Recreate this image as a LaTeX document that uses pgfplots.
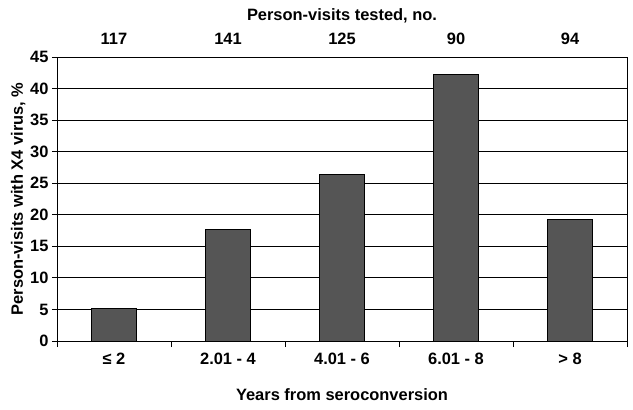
\documentclass[border=0pt]{standalone}
\usepackage{pgfplots}
\pgfplotsset{compat=1.18}
\usepackage{fontspec}
\setmainfont{Liberation Sans}
\definecolor{barfill}{RGB}{85,85,85}
\newcommand{\lf}{\fontsize{16.5}{18}\selectfont\bfseries}
\begin{document}
\begin{tikzpicture}
\begin{axis}[
  name=ax,
  scale only axis,
  width=570bp, height=284bp,
  xmin=-0.5, xmax=4.5,
  ymin=0, ymax=45,
  ytick={0,5,...,45},
  xtick={0,1,2,3,4},
  xticklabels={≤ 2, 2.01 - 4, 4.01 - 6, 6.01 - 8, > 8},
  minor xtick={-0.5,0.5,1.5,2.5,3.5,4.5},
  major x tick style={draw=none},
  minor x tick style={black, line width=0.8pt},
  y tick style={black, line width=0.8pt},
  tick align=outside,
  major tick length=5bp,
  minor tick length=6bp,
  xtick pos=bottom, ytick pos=left,
  ymajorgrids,
  grid style={black, line width=0.9pt},
  axis line style={black, line width=0.9pt},
  tick label style={font=\lf},
  /pgf/number format/assume math mode=true,
  xticklabel style={yshift=-4bp},
  label style={font=\lf},
  xlabel={Years from seroconversion},
  ylabel={Person-visits with X4 virus, \%},
  xlabel style={yshift=-17bp},
  ylabel style={yshift=-2bp},
  clip=false,
]
\addplot[ybar, bar width=0.39, fill=barfill, draw=black, line width=0.8pt] coordinates {
(0,5.2) (1,17.7) (2,26.4) (3,42.2) (4,19.2)
};
\node[font=\lf, anchor=base] at ([yshift=13bp]axis cs:0,45) {117};
\node[font=\lf, anchor=base] at ([yshift=13bp]axis cs:1,45) {141};
\node[font=\lf, anchor=base] at ([yshift=13bp]axis cs:2,45) {125};
\node[font=\lf, anchor=base] at ([yshift=13bp]axis cs:3,45) {90};
\node[font=\lf, anchor=base] at ([yshift=13bp]axis cs:4,45) {94};
\node[font=\lf, anchor=base] at ([yshift=37bp]axis cs:2,45) {Person-visits tested, no.};
\end{axis}
\path ([shift={(-57bp,-69bp)}]ax.south west) rectangle ([shift={(6bp,57bp)}]ax.north east);
\end{tikzpicture}
\end{document}
